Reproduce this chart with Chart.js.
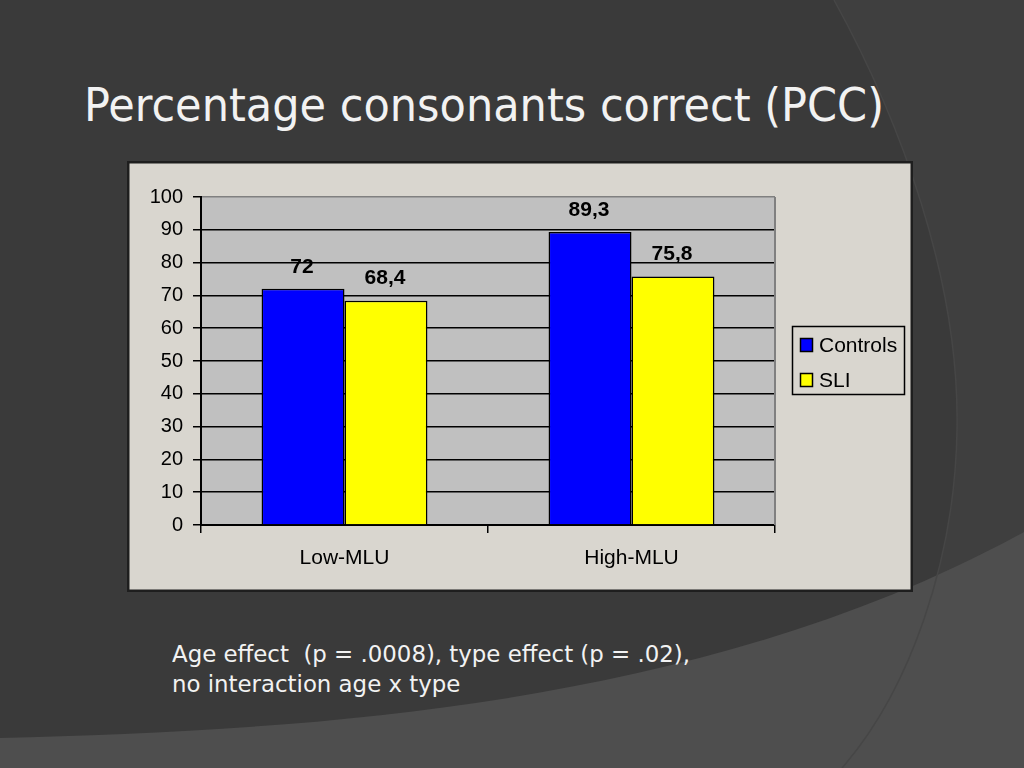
<!DOCTYPE html>
<html><head><meta charset="utf-8">
<script src="https://cdn.jsdelivr.net/npm/chart.js@4.4.1/dist/chart.umd.min.js"></script>
<style>
html,body{margin:0;padding:0;width:1024px;height:768px;overflow:hidden;background:#3a3a3a;}
#bg{position:absolute;left:0;top:0;}
.txt{position:absolute;color:#f2f2f2;font-family:"Liberation Sans Narrow","DejaVu Sans Condensed",sans-serif;white-space:nowrap;transform-origin:0 0;}
#title{left:84px;top:81px;font-size:47px;line-height:47px;}
#note{left:172px;top:639px;font-size:23px;line-height:30px;}
#wrap{position:absolute;left:127px;top:161px;width:786px;height:431px;}
</style></head><body>
<svg id="bg" width="1024" height="768">
  <rect width="1024" height="768" fill="#3a3a3a"/>
  <path d="M834,0 C 900,120 960,280 957,430 C 955,560 910,690 842,768 L1024,768 L1024,0 Z" fill="#3f3f3f"/>
  <path d="M0,738 C 300,730 700,710 1024,532 L1024,768 L0,768 Z" fill="#4e4e4e"/>
  <path d="M834,0 C 900,120 960,280 957,430 C 955,560 910,690 842,768" fill="none" stroke="#464646" stroke-width="1.5"/>
</svg>
<div id="title" class="txt"><span id="t1">Percentage consonants correct (PCC)</span></div>
<div id="note" class="txt"><span id="n1">Age effect&nbsp; (p = .0008), type effect (p = .02),</span><br><span>no interaction age x type</span></div>
<div id="wrap"><canvas id="c" width="786" height="431"></canvas></div>
<script>
const categories = ['Low-MLU', 'High-MLU'];
const seriesNames = ['Controls', 'SLI'];
const controlsValues = [72, 89.3];
const sliValues = [68.4, 75.8];
const seriesColors = ['#0000FF', '#FFFF00'];
const yMin = 0, yMax = 100, yStep = 10;

function fitWidth(el, span, target){
  const w = span.getBoundingClientRect().width;
  el.style.transform = 'scaleX(' + (target / w) + ')';
}
fitWidth(document.getElementById('title'), document.getElementById('t1'), 800);
fitWidth(document.getElementById('note'), document.getElementById('n1'), 518);

const FONT = "'Liberation Sans', Arial, sans-serif";

const panelPlugin = {
  id: 'panel',
  beforeDraw(chart){
    const ctx = chart.ctx, a = chart.chartArea;
    ctx.save();
    ctx.fillStyle = '#D9D6CF';
    ctx.fillRect(0, 0, chart.width, chart.height);
    ctx.strokeStyle = '#1e1e1e';
    ctx.lineWidth = 2.5;
    ctx.strokeRect(1.25, 1.25, chart.width - 2.5, chart.height - 2.5);
    ctx.fillStyle = '#C0C0C0';
    ctx.fillRect(a.left, a.top, a.right - a.left, a.bottom - a.top);
    ctx.restore();
  },
  afterDatasetsDraw(chart){
    const ctx = chart.ctx, a = chart.chartArea;
    ctx.save();
    ctx.strokeStyle = '#808080';
    ctx.lineWidth = 2;
    ctx.beginPath();
    ctx.moveTo(a.right, a.top);
    ctx.lineTo(a.right, a.bottom);
    ctx.stroke();
    // value labels
    ctx.fillStyle = '#000';
    ctx.font = 'bold 21px ' + FONT;
    ctx.textAlign = 'center';
    ctx.textBaseline = 'middle';
    chart.data.datasets.forEach((ds, i) => {
      chart.getDatasetMeta(i).data.forEach((bar, j) => {
        ctx.fillText(String(ds.data[j]).replace('.', ','), bar.x - 1, bar.y - 22);
      });
    });
    // legend
    ctx.lineWidth = 1.5;
    ctx.strokeStyle = '#000';
    ctx.strokeRect(665.5, 165.5, 112, 68);
    ctx.font = '21px ' + FONT;
    ctx.textAlign = 'left';
    chart.data.datasets.forEach((ds, i) => {
      const cy = 184 + i * 35;
      ctx.fillStyle = ds.backgroundColor;
      ctx.fillRect(673.5, cy - 6.5, 12, 13);
      ctx.strokeRect(673.5, cy - 6.5, 12, 13);
      ctx.fillStyle = '#000';
      ctx.fillText(ds.label, 692, cy + 1);
    });
    ctx.restore();
  }
};

new Chart(document.getElementById('c'), {
  type: 'bar',
  data: {
    labels: categories,
    datasets: [
      { label: seriesNames[0], data: controlsValues, backgroundColor: seriesColors[0], borderColor: '#000', borderWidth: 1.5 },
      { label: seriesNames[1], data: sliValues, backgroundColor: seriesColors[1], borderColor: '#000', borderWidth: 1.5 }
    ]
  },
  options: {
    responsive: false,
    animation: false,
    layout: { padding: { left: 0, right: 138, top: 36, bottom: 0 } },
    datasets: { bar: { barPercentage: 1, categoryPercentage: 0.578 } },
    plugins: { legend: { display: false }, tooltip: { enabled: false } },
    scales: {
      x: {
        grid: { offset: true, drawOnChartArea: false, drawTicks: true, tickLength: 8, color: '#000', lineWidth: 1.5 },
        border: { color: '#000', width: 2 },
        ticks: { color: '#000', font: { family: FONT, size: 21 }, padding: 13 },
        afterFit(s){ s.height = 67; }
      },
      y: {
        min: yMin, max: yMax,
        ticks: { stepSize: yStep, color: '#000', font: { family: FONT, size: 20 }, padding: 10 },
        grid: { color: c => (c.tick && c.tick.value === yMax) ? '#808080' : '#000', lineWidth: 1.5, tickLength: 8, tickColor: '#000' },
        border: { color: '#000', width: 2 },
        afterFit(s){ s.width = 74; }
      }
    }
  },
  plugins: [panelPlugin]
});
</script>
</body></html>
